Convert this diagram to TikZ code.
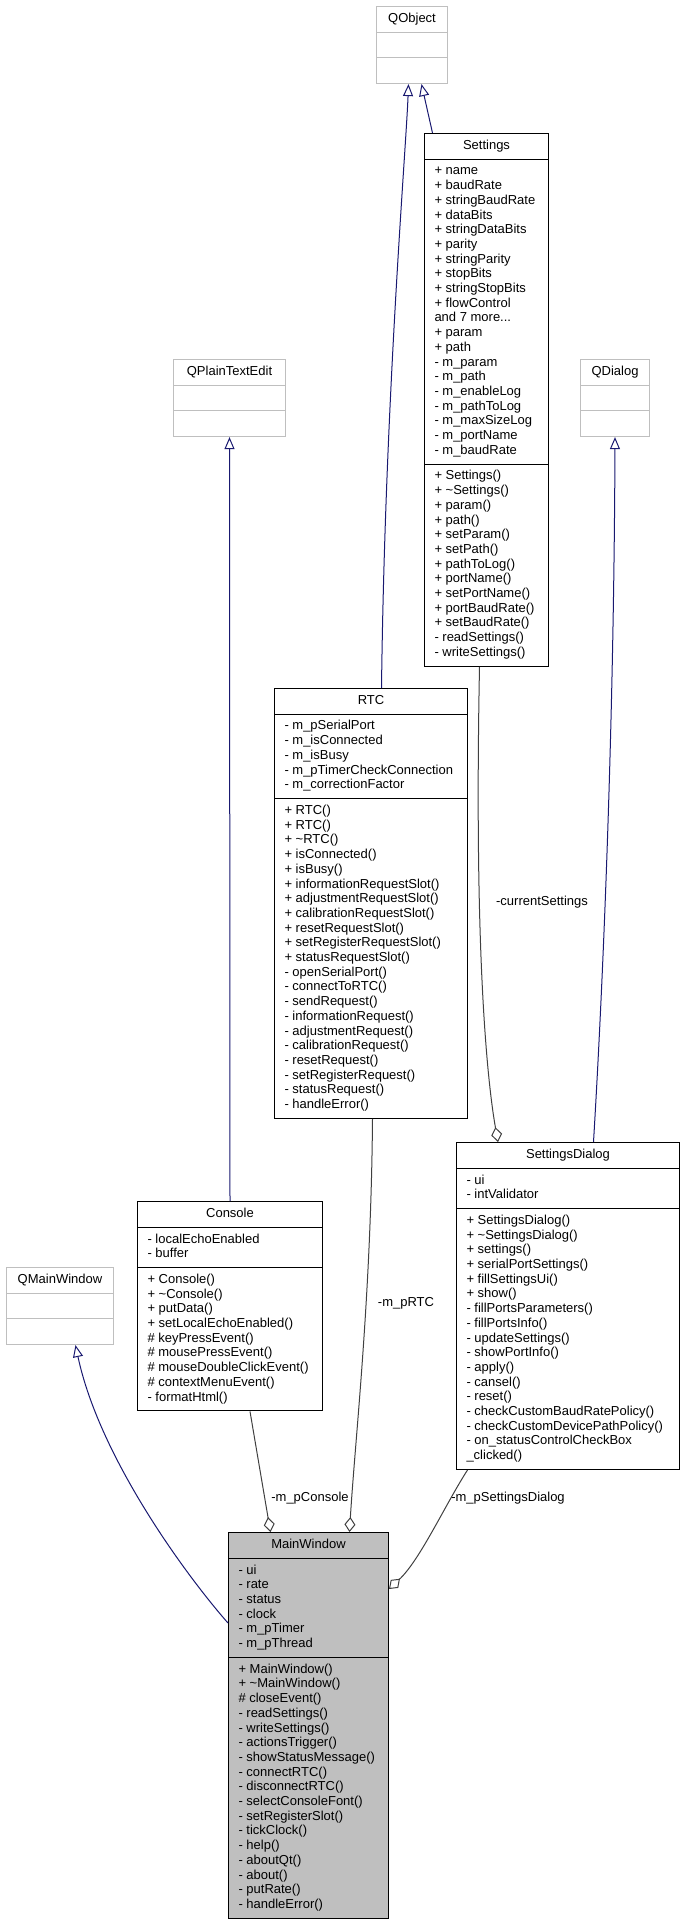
\documentclass[tikz,border=0pt]{standalone}
\usepackage{fontspec}
\setmainfont{Liberation Sans}
\usetikzlibrary{shapes.multipart, arrows.meta}

\definecolor{navy}{RGB}{25,25,112}
\definecolor{edgegray}{RGB}{64,64,64}
\definecolor{extgray}{RGB}{191,191,191}

\newcommand{\mlist}[1]{\begin{tabular}{@{}l@{}}#1\end{tabular}}
\newcommand{\dtor}{\textasciitilde}

\begin{document}
\begin{tikzpicture}[x=1pt, y=-1pt]
    \tikzstyle{cls}=[rectangle split, rectangle split parts=3,
        rectangle split part align={center,left,left},
        draw=black, line width=1pt, inner xsep=10pt, inner ysep=5pt,
        anchor=north west, font=\fontsize{13}{14.7}\selectfont]
    \tikzstyle{ext}=[cls, draw=extgray]
    \tikzstyle{inh}=[-{Triangle[open, length=12pt, width=10pt]}, navy, line width=1pt]
    \tikzstyle{agg}=[-{Diamond[open, length=15pt, width=11pt]}, edgegray, line width=1pt]
    \tikzstyle{lbl}=[font=\fontsize{13}{14.7}\selectfont, inner sep=0pt]

    \useasboundingbox (0,0) rectangle (685,1921);

    % base classes
    \node[ext, minimum width=71pt] (QObject) at (376,6)
        {\strut QObject \nodepart{two} \strut \nodepart{three} \strut};
    \node[ext, minimum width=112pt] (QPlainTextEdit) at (173,359)
        {\strut QPlainTextEdit \nodepart{two} \strut \nodepart{three} \strut};
    \node[ext, minimum width=69pt] (QDialog) at (580,359)
        {\strut QDialog \nodepart{two} \strut \nodepart{three} \strut};
    \node[ext, minimum width=107pt] (QMainWindow) at (6,1267)
        {\strut QMainWindow \nodepart{two} \strut \nodepart{three} \strut};

    % classes
    \node[cls, minimum width=124pt] (Settings) at (424,133)
        {\strut Settings
        \nodepart{two} \mlist{+ name\\+ baudRate\\+ stringBaudRate\\+ dataBits\\
            + stringDataBits\\+ parity\\+ stringParity\\+ stopBits\\+ stringStopBits\\
            + flowControl\\and 7 more...\\+ param\\+ path\\- m\_param\\- m\_path\\
            - m\_enableLog\\- m\_pathToLog\\- m\_maxSizeLog\\- m\_portName\\- m\_baudRate}
        \nodepart{three} \mlist{+ Settings()\\+ \dtor Settings()\\+ param()\\+ path()\\
            + setParam()\\+ setPath()\\+ pathToLog()\\+ portName()\\+ setPortName()\\
            + portBaudRate()\\+ setBaudRate()\\- readSettings()\\- writeSettings()}};

    \node[cls, minimum width=193pt] (RTC) at (274,688)
        {\strut RTC
        \nodepart{two} \mlist{- m\_pSerialPort\\- m\_isConnected\\- m\_isBusy\\
            - m\_pTimerCheckConnection\\- m\_correctionFactor}
        \nodepart{three} \mlist{+ RTC()\\+ RTC()\\+ \dtor RTC()\\+ isConnected()\\+ isBusy()\\
            + informationRequestSlot()\\+ adjustmentRequestSlot()\\+ calibrationRequestSlot()\\
            + resetRequestSlot()\\+ setRegisterRequestSlot()\\+ statusRequestSlot()\\
            - openSerialPort()\\- connectToRTC()\\- sendRequest()\\- informationRequest()\\
            - adjustmentRequest()\\- calibrationRequest()\\- resetRequest()\\
            - setRegisterRequest()\\- statusRequest()\\- handleError()}};

    \node[cls, minimum width=223pt] (SettingsDialog) at (456,1142)
        {\strut SettingsDialog
        \nodepart{two} \mlist{- ui\\- intValidator}
        \nodepart{three} \mlist{+ SettingsDialog()\\+ \dtor SettingsDialog()\\+ settings()\\
            + serialPortSettings()\\+ fillSettingsUi()\\+ show()\\- fillPortsParameters()\\
            - fillPortsInfo()\\- updateSettings()\\- showPortInfo()\\- apply()\\- cansel()\\
            - reset()\\- checkCustomBaudRatePolicy()\\- checkCustomDevicePathPolicy()\\
            - on\_statusControlCheckBox\\\_clicked()}};

    \node[cls, minimum width=185pt] (Console) at (137,1201)
        {\strut Console
        \nodepart{two} \mlist{- localEchoEnabled\\- buffer}
        \nodepart{three} \mlist{+ Console()\\+ \dtor Console()\\+ putData()\\
            + setLocalEchoEnabled()\\\# keyPressEvent()\\\# mousePressEvent()\\
            \# mouseDoubleClickEvent()\\\# contextMenuEvent()\\- formatHtml()}};

    \node[cls, minimum width=160pt, fill=extgray] (MainWindow) at (228,1532)
        {\strut MainWindow
        \nodepart{two} \mlist{- ui\\- rate\\- status\\- clock\\- m\_pTimer\\- m\_pThread}
        \nodepart{three} \mlist{+ MainWindow()\\+ \dtor MainWindow()\\\# closeEvent()\\
            - readSettings()\\- writeSettings()\\- actionsTrigger()\\- showStatusMessage()\\
            - connectRTC()\\- disconnectRTC()\\- selectConsoleFont()\\- setRegisterSlot()\\
            - tickClock()\\- help()\\- aboutQt()\\- about()\\- putRate()\\- handleError()}};

    % inheritance
    \draw[inh] ([xshift=10.5pt]RTC.north) .. controls (385,400) and (406,150) .. ([xshift=-3.5pt]QObject.south);
    \draw[inh] ([xshift=-54pt]Settings.north) -- ([xshift=9.5pt]QObject.south);
    \draw[inh] (Console.north) -- (QPlainTextEdit.south);
    \draw[inh] ([xshift=25.5pt]SettingsDialog.north) .. controls (605,950) and (614,700) .. (QDialog.south);
    \draw[inh] ([yshift=-91pt]MainWindow.north west) .. controls (190,1580) and (100,1460) .. ([xshift=15.5pt]QMainWindow.south);

    % members
    \draw[agg] ([xshift=-7pt]Settings.south) .. controls (474,950) and (487,1080) .. ([xshift=-70pt]SettingsDialog.north);
    \draw[agg] ([xshift=1.5pt]RTC.south) .. controls (371,1300) and (355,1440) .. ([xshift=41pt]MainWindow.north);
    \draw[agg] ([xshift=20pt]Console.south) -- ([xshift=-38pt]MainWindow.north);
    \draw[agg] ([xshift=-100.5pt]SettingsDialog.south) .. controls (445,1505) and (420,1560) .. ([yshift=-57pt]MainWindow.north east);

    \node[lbl] (lblCurrent) at (542,902) {-currentSettings};
    \node[lbl] (lblRTC) at (406,1303) {-m\_pRTC};
    \node[lbl] (lblConsole) at (310,1498) {-m\_pConsole};
    \node[lbl] (lblDialog) at (508,1498) {-m\_pSettingsDialog};
\end{tikzpicture}
\end{document}
